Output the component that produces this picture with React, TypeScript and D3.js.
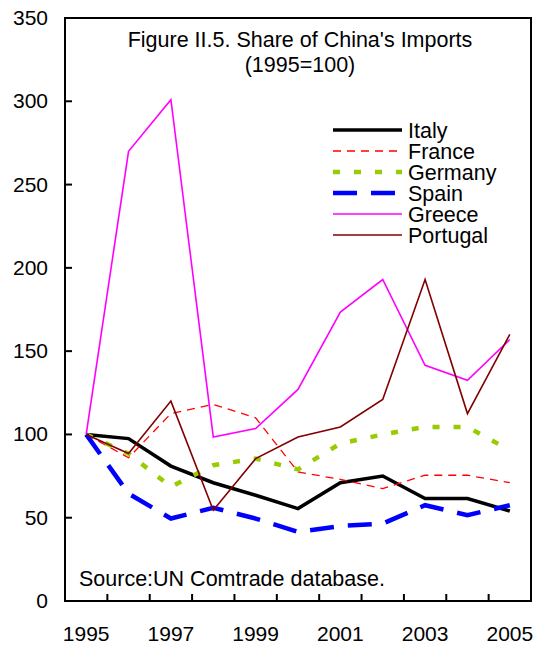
import React from "react";
import * as d3 from "d3";

const years = ["1995","1996","1997","1998","1999","2000","2001","2002","2003","2004","2005"];
const yTicks = [0, 50, 100, 150, 200, 250, 300, 350];
const italy = [100, 97.5, 81, 71, 63.5, 55.5, 71, 75, 61.5, 61.5, 54];
const france = [100, 86, 112.5, 118, 110, 77.5, 73, 67.5, 75.5, 75.5, 71];
const germany = [100, 88.5, 68.5, 81.5, 85.5, 79, 94.5, 100, 104.5, 104.5, 90.5];
const spain = [100, 64.5, 49.5, 56, 49.5, 41.5, 45, 46.5, 57.5, 51.5, 57.5];
const greece = [100, 270, 301, 98.5, 103.5, 127, 173.5, 193, 141.5, 132.5, 157];
const portugal = [100, 88.5, 120, 54.5, 85.5, 98.5, 104.5, 121, 193, 112.5, 160];

const series = [
  { name: "Italy", values: italy, color: "#000000", width: 3.5, dash: "none" },
  { name: "France", values: france, color: "#FF0000", width: 1.3, dash: "8,6" },
  { name: "Germany", values: germany, color: "#99CC00", width: 4.5, dash: "7,14" },
  { name: "Spain", values: spain, color: "#0000FF", width: 4.5, dash: "24,14" },
  { name: "Greece", values: greece, color: "#FF00FF", width: 1.6, dash: "none" },
  { name: "Portugal", values: portugal, color: "#800000", width: 1.6, dash: "none" },
];

const L = 65, R = 531, T = 18, B = 601;

export default function App() {
  const x = d3.scaleBand().domain(years).range([L, R]);
  const y = d3.scaleLinear().domain([0, 350]).range([B, T]);
  const line = d3
    .line<number>()
    .x((_, i) => (x(years[i]) as number) + x.bandwidth() / 2)
    .y((d) => y(d));
  const font = "Liberation Sans, Arial, sans-serif";
  return (
    <svg width={535} height={645} style={{ position: "absolute", left: 0, top: 0 }} fontFamily={font}>
      <rect x={0} y={0} width={535} height={645} fill="#fff" />
      {series.map((s) => (
        <path
          key={s.name}
          d={line(s.values) as string}
          fill="none"
          stroke={s.color}
          strokeWidth={s.width}
          strokeDasharray={s.dash}
          strokeLinejoin="miter"
        />
      ))}
      <rect x={L} y={T} width={R - L} height={B - T} fill="none" stroke="#000" strokeWidth={2} />
      {yTicks.map((t) => (
        <g key={t}>
          <line x1={L} x2={L + 7} y1={y(t)} y2={y(t)} stroke="#000" strokeWidth={2} />
          <text x={48} y={y(t) + 7} textAnchor="end" fontSize={21}>
            {t}
          </text>
        </g>
      ))}
      {years.slice(1).map((yr) => (
        <line key={yr} x1={x(yr) as number} x2={x(yr) as number} y1={B} y2={B - 7} stroke="#000" strokeWidth={2} />
      ))}
      {years.filter((_, i) => i % 2 === 0).map((yr) => (
        <text key={yr} x={(x(yr) as number) + x.bandwidth() / 2} y={641} textAnchor="middle" fontSize={21}>
          {yr}
        </text>
      ))}
      <text x={300} y={47} textAnchor="middle" fontSize={21.5}>
        Figure II.5. Share of China's Imports
      </text>
      <text x={300} y={72} textAnchor="middle" fontSize={21.5}>
        (1995=100)
      </text>
      {series.map((s, i) => {
        const yy = 130 + i * 21;
        return (
          <g key={s.name}>
            <line x1={333} x2={402} y1={yy} y2={yy} stroke={s.color} strokeWidth={s.width} strokeDasharray={s.dash} />
            <text x={408} y={yy + 7.5} fontSize={21.5}>
              {s.name}
            </text>
          </g>
        );
      })}
      <text x={79} y={586} fontSize={21.5}>
        Source:UN Comtrade database.
      </text>
    </svg>
  );
}
